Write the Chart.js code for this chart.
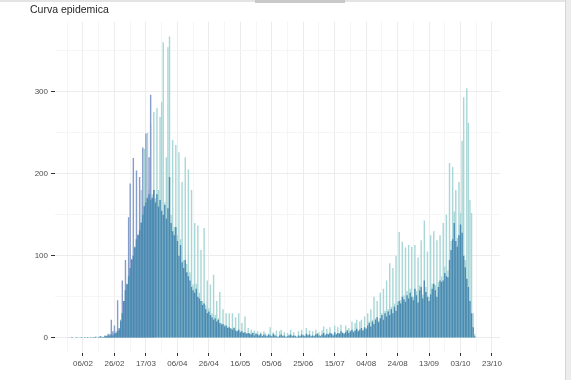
<!DOCTYPE html>
<html>
<head>
<meta charset="utf-8">
<script src="https://cdn.jsdelivr.net/npm/chart.js@4.4.1/dist/chart.umd.min.js"></script>
<style>
  html, body { margin: 0; padding: 0; background: #ffffff; }
  #wrap { position: relative; width: 571px; height: 380px; overflow: hidden; }
  #c { display: block; }
  .frameTop { position: absolute; left: 0; top: 0; width: 571px; height: 2px; background: #e4e4e4; }
  .frameTab { position: absolute; left: 255px; top: 0; width: 90px; height: 3px; background: #c9c9c9; }
  .frameRight { position: absolute; left: 565px; top: 0; width: 6px; height: 380px; background: #ececec; border-left: 1px solid #d6d6d6; }
</style>
</head>
<body>
<div id="wrap">
  <canvas id="c" width="571" height="380"></canvas>
  <div class="frameTop"></div>
  <div class="frameTab"></div>
  <div class="frameRight"></div>
</div>
<script>
// ---------------- DATA ----------------
const chartTitle = 'Curva epidemica';
const seriesStart = '2020-01-24';   // first day of the daily series below

// back series (light teal) – daily values
const totaleCasi = [
  0,0,0,0,1,0,1,0,                                                   // Jan 24-31
  1,1,0,1,1,0,1,1,1,0, 1,1,1,2,1,1,2,2,1,2, 3,3,4,5,6,7,8,10,12,     // Feb
  20,30,45,58,65,75,85,95,100,110, 120,125,131,180,155,230,170,250,180,260,
  175,275,170,280,180,269,287,360,165,220,354,                       // Mar
  367,150,241,135,235,125,226,120,190,95, 220,90,205,80,180,65,140,66,137,55,
  107,45,134,40,70,36,65,30,77,28,                                   // Apr
  45,24,56,18,35,16,30,14,30,12, 30,13,25,9,30,8,18,7,26,6,
  12,6,10,7,9,6,8,4,7,3,8,                                           // May
  6,3,5,13,3,7,4,9,2,8, 10,3,7,2,6,4,10,3,7,3, 2,8,3,10,4,3,12,4,9,3, // Jun
  8,3,10,6,7,3,9,14,4,11, 5,13,6,4,15,5,13,6,16,7,
  6,15,10,12,9,20,8,18,22,9,20,                                      // Jul
  22,10,26,12,30,20,35,22,50,24, 45,21,55,30,60,33,70,35,91,38,
  85,42,100,44,129,46,117,52,110,57,113,                             // Aug
  60,111,50,113,57,98,64,119,53,143, 62,105,50,125,66,130,64,119,68,125,
  75,140,87,150,82,213,118,208,154,180,                              // Sep
  122,190,152,240,293,95,304,262,168,152,30,5                        // Oct 1-12
];

// front series (steel blue) – daily values
const casiBlu = [
  0,0,0,0,0,0,1,0,                                                   // Jan 24-31
  0,1,0,0,1,0,1,0,1,0, 1,0,1,1,0,1,2,1,1,2, 2,3,2,4,3,5,6,8,10,      // Feb
  20,30,45,58,65,75,85,95,100,110, 120,125,131,140,150,160,165,170,175,168,
  170,180,165,175,160,168,155,150,162,145,158,                       // Mar
  196,140,130,125,135,118,100,113,92,85, 95,80,75,70,62,58,55,60,50,48,
  45,40,42,35,30,32,28,25,22,24,                                     // Apr
  20,22,18,16,17,14,15,12,13,11, 10,12,9,8,10,7,8,6,7,5,
  6,5,4,6,3,5,4,3,5,2,4,                                             // May
  3,2,4,3,2,5,3,2,1,3, 4,2,3,1,2,3,4,2,3,2, 1,3,2,4,3,2,5,3,4,2,     // Jun
  3,2,4,5,3,2,4,6,3,5, 4,6,5,3,7,4,6,5,8,6,
  5,7,9,6,8,10,7,9,11,8,10,                                          // Jul
  12,9,13,11,15,18,14,20,17,22, 25,19,24,28,22,30,26,32,28,35,
  30,38,33,40,45,42,50,47,44,52,48,                                  // Aug
  55,50,46,60,52,43,58,62,48,70, 56,50,45,53,60,66,58,50,62,70,
  68,70,79,75,74,95,107,120,140,118,                                 // Sep
  111,125,138,128,100,86,72,62,45,30,13,2                            // Oct 1-12
];

// middle series (lavender) – early outbreak only
const lavenderStart = '2020-02-20';
const casiLavanda = [
  3,2,5,4,22,8,15,6,46,12,                                           // Feb 20-29
  22,70,45,95,66,147,188,96,219,111, 204,126,196,141,232,161,249,171,220,296,
  171,180                                                            // Mar 1-22
];

const xTickLabels = ['06/02','26/02','17/03','06/04','26/04','16/05','05/06',
                     '25/06','15/07','04/08','24/08','13/09','03/10','23/10'];
const yTickValues = [0, 100, 200, 300];

// ---------------- HELPERS ----------------
const DAY = 86400000;
const ORIGIN = Date.UTC(2020, 1, 6);
function dayOfIso(s) { const [y, m, d] = s.split('-').map(Number); return (Date.UTC(y, m - 1, d) - ORIGIN) / DAY; }
function dayOfLabel(s) { const [d, m] = s.split('/').map(Number); return (Date.UTC(2020, m - 1, d) - ORIGIN) / DAY; }
function toPoints(start, vals) { const s0 = dayOfIso(start); return vals.map((v, i) => ({ x: s0 + i, y: v })); }

const xMajor = xTickLabels.map(dayOfLabel);
const xLabelAt = {}; xMajor.forEach((v, i) => { xLabelAt[v] = xTickLabels[i]; });
const xAll = [];
for (let i = 0; i < xMajor.length; i++) {
  xAll.push(xMajor[i]);
  if (i < xMajor.length - 1) xAll.push((xMajor[i] + xMajor[i + 1]) / 2);
}
xAll.unshift(xMajor[0] - (xMajor[1] - xMajor[0]) / 2);
const yAll = [];
yTickValues.forEach((v) => { yAll.push(v); yAll.push(v + (yTickValues[1] - yTickValues[0]) / 2); });

const FONT = "'Liberation Sans', Arial, Helvetica, sans-serif";
const isMajorX = v => Object.prototype.hasOwnProperty.call(xLabelAt, v);
const isMajorY = v => yTickValues.includes(v);

new Chart(document.getElementById('c'), {
  type: 'bar',
  data: {
    datasets: [
      { label: 'totale', data: toPoints(seriesStart, totaleCasi), backgroundColor: '#a9d6d6', order: 3 },
      { label: 'lavanda', data: toPoints(lavenderStart, casiLavanda), backgroundColor: '#879dc9', order: 2 },
      { label: 'blu', data: toPoints(seriesStart, casiBlu), backgroundColor: '#4b8bb2', order: 1 }
    ]
  },
  options: {
    responsive: false,
    animation: false,
    events: [],
    datasets: { bar: { grouped: false, barPercentage: 1, categoryPercentage: 0.9, inflateAmount: 0, borderWidth: 0 } },
    layout: { padding: { left: 30, right: 71, top: 0, bottom: 0 } },
    plugins: {
      legend: { display: false },
      tooltip: { enabled: false },
      title: {
        display: true, text: chartTitle, align: 'start', color: '#1f1f1f',
        font: { family: FONT, size: 10.5, weight: 'normal' },
        padding: { top: 4, bottom: 5.2 }
      }
    },
    scales: {
      x: {
        type: 'linear', min: -17.8, max: 265.1, offset: false,
        border: { display: false },
        grid: {
          offset: false, drawTicks: true, tickLength: 3,
          color: c => isMajorX(c.tick.value) ? '#ececec' : '#f5f5f5',
          tickColor: c => isMajorX(c.tick.value) ? '#333333' : 'rgba(0,0,0,0)',
          lineWidth: 1
        },
        ticks: {
          autoSkip: false, maxRotation: 0, minRotation: 0, padding: 3,
          color: '#4d4d4d', font: { family: FONT, size: 8 },
          callback: v => xLabelAt[v] || ''
        },
        afterBuildTicks: s => { s.ticks = xAll.map(v => ({ value: v })); },
        afterFit: s => { s.height = 27; }
      },
      y: {
        min: -18.4, max: 385,
        border: { display: false },
        grid: {
          drawTicks: true, tickLength: 4,
          color: c => isMajorY(c.tick.value) ? '#ececec' : '#f5f5f5',
          tickColor: c => isMajorY(c.tick.value) ? '#333333' : 'rgba(0,0,0,0)',
          lineWidth: 1
        },
        ticks: {
          padding: 3, color: '#4d4d4d', font: { family: FONT, size: 8 },
          callback: v => isMajorY(v) ? String(v) : ''
        },
        afterBuildTicks: s => { s.ticks = yAll.map(v => ({ value: v })); },
        afterFit: s => { s.width = 25; }
      }
    }
  }
});
</script>
</body>
</html>
